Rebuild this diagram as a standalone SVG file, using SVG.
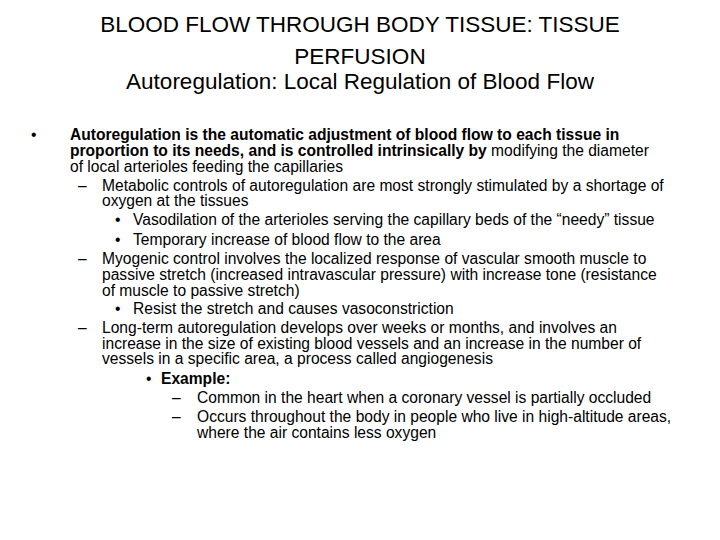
<svg xmlns="http://www.w3.org/2000/svg" width="720" height="540" viewBox="0 0 720 540">
<style>
text{font-family:"Liberation Sans",Arial,sans-serif;fill:#000}
.t{font-size:22.5px;text-anchor:middle}
.b{font-size:15.6px}
.bd{font-weight:bold}
</style>
<rect width="720" height="540" fill="#fff"/>
<g id="title">
<text class="t" x="360" y="32">BLOOD FLOW THROUGH BODY TISSUE: TISSUE</text>
<text class="t" x="360" y="64">PERFUSION</text>
<text class="t" x="360" y="89">Autoregulation: Local Regulation of Blood Flow</text>
</g>
<g id="body">
<text class="b" x="31" y="140">•</text>
<text class="b bd" x="70" y="140">Autoregulation is the automatic adjustment of blood flow to each tissue in</text>
<text class="b" x="70" y="156"><tspan class="bd">proportion to its needs, and is controlled intrinsically by</tspan> modifying the diameter</text>
<text class="b" x="70" y="172">of local arterioles feeding the capillaries</text>
<text class="b" x="78" y="191">–</text>
<text class="b" x="102" y="191">Metabolic controls of autoregulation are most strongly stimulated by a shortage of</text>
<text class="b" x="102" y="206">oxygen at the tissues</text>
<text class="b" x="115" y="225">•</text>
<text class="b" x="133" y="225">Vasodilation of the arterioles serving the capillary beds of the “needy” tissue</text>
<text class="b" x="115" y="245">•</text>
<text class="b" x="133" y="245">Temporary increase of blood flow to the area</text>
<text class="b" x="78" y="264">–</text>
<text class="b" x="102" y="264">Myogenic control involves the localized response of vascular smooth muscle to</text>
<text class="b" x="102" y="280">passive stretch (increased intravascular pressure) with increase tone (resistance</text>
<text class="b" x="102" y="296">of muscle to passive stretch)</text>
<text class="b" x="115" y="314">•</text>
<text class="b" x="133" y="314">Resist the stretch and causes vasoconstriction</text>
<text class="b" x="78" y="333">–</text>
<text class="b" x="102" y="333">Long-term autoregulation develops over weeks or months, and involves an</text>
<text class="b" x="102" y="349">increase in the size of existing blood vessels and an increase in the number of</text>
<text class="b" x="102" y="364">vessels in a specific area, a process called angiogenesis</text>
<text class="b" x="146" y="384">•</text>
<text class="b bd" x="161" y="384">Example:</text>
<text class="b" x="172" y="403">–</text>
<text class="b" x="197" y="403">Common in the heart when a coronary vessel is partially occluded</text>
<text class="b" x="172" y="422">–</text>
<text class="b" x="197" y="422">Occurs throughout the body in people who live in high-altitude areas,</text>
<text class="b" x="197" y="438">where the air contains less oxygen</text>
</g>
</svg>
